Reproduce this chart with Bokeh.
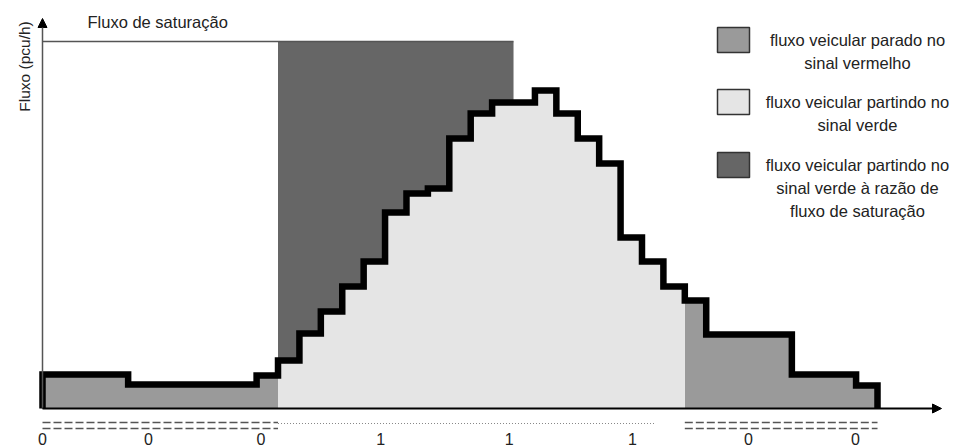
import numpy as np
from bokeh.plotting import figure
from bokeh.models import Range1d, Arrow, NormalHead
from bokeh.embed import file_html
from bokeh.resources import INLINE
from bokeh.core.properties import value

# ---------------- data ----------------
# flow (pcu/h) in each time interval of the cycle
flow = [170, 170, 170, 170,
        120, 120, 120, 120, 120, 120,
        165,
        240, 375, 485, 610, 735, 980, 1075, 1100, 1350, 1475, 1530, 1530, 1590,
        1475, 1350, 1225, 855, 735, 610,
        540, 370, 370, 370, 370,
        170, 170, 170,
        115]
saturation_flow = 1835

queue_intervals = [(0, 11), (30, 39)]      # stopped at red
departing_interval = (11, 30)              # departing at green
saturation_interval = (11, 22)             # departing at saturation flow

red_signal = [(0, 11), (30, 39)]
green_signal = [(11, 28.6)]

tick_pos = [0, 4.95, 10.2, 15.8, 21.8, 27.55, 32.97, 37.97]
tick_labels = ["0", "0", "0", "1", "1", "1", "0", "0"]

legend_labels = [
    ["fluxo veicular parado no", "sinal vermelho"],
    ["fluxo veicular partindo no", "sinal verde"],
    ["fluxo veicular partindo no", "sinal verde à razão de", "fluxo de saturação"],
]
title_text = "Fluxo de saturação"
ylabel_text = "Fluxo (pcu/h)"

# ---------------- styles / layout ----------------
C_QUEUE = "#9a9a9a"
C_GREEN = "#e5e5e5"
C_SAT = "#666666"
TXT = "#222222"
FONT = "Liberation Sans"
TOFF = 6                 # text baseline correction (px)

W, H = 954, 448
UX = 835 / 39.0          # px per time unit
VY = 5.0                 # flow units per px
X0_PX, Y0_PX = 42, 408   # canvas px of origin

def px2u(x):   # canvas x -> data x
    return (x - X0_PX) / UX

def py2v(y):   # canvas y -> data y
    return (Y0_PX - y) * VY

xa = -X0_PX / UX
xb = xa + W / UX
ya = -(H - Y0_PX) * VY
yb = ya + H * VY

p = figure(width=W, height=H, x_range=Range1d(xa, xb), y_range=Range1d(ya, yb),
           x_axis_type=None, y_axis_type=None, toolbar_location=None,
           output_backend="svg", min_border=0, outline_line_color=None,
           background_fill_color="white", border_fill_color="white")

def step_path(a, b):
    xs, ys = [], []
    for i in range(int(a), int(b)):
        xs += [i, i + 1]
        ys += [flow[i], flow[i]]
    return xs, ys

# fills
for a, b in queue_intervals:
    xs, ys = step_path(a, b)
    p.varea(x=xs, y1=[0] * len(xs), y2=ys, fill_color=C_QUEUE)
xs, ys = step_path(*departing_interval)
p.varea(x=xs, y1=[0] * len(xs), y2=ys, fill_color=C_GREEN)
xs, ys = step_path(*saturation_interval)
p.varea(x=xs, y1=ys, y2=[saturation_flow] * len(xs), fill_color=C_SAT)

# saturation line
p.line([0, saturation_interval[1]], [saturation_flow, saturation_flow],
       line_color="#555555", line_width=1.5)

# axes arrows
p.add_layout(Arrow(x_start=0, y_start=0, x_end=0, y_end=py2v(18),
                   line_color="#555555", line_width=1.5,
                   end=NormalHead(size=9, fill_color="black", line_color="black")))
p.add_layout(Arrow(x_start=0, y_start=0, x_end=px2u(941), y_end=0,
                   line_color="black", line_width=1.8,
                   end=NormalHead(size=9, fill_color="black", line_color="black")))

# step line
xs, ys = step_path(0, len(flow))
xs = [0] + xs + [len(flow)]
ys = [0] + ys + [0]
p.line(xs, ys, line_color="black", line_width=6.5, line_join="miter")

# signal indicators under the axis
for a, b in red_signal:
    for yy in (py2v(422), py2v(428)):
        p.line([a, b], [yy, yy], line_color="#555555", line_width=1.6, line_dash="8 3")
for a, b in green_signal:
    p.line([a, b], [py2v(423), py2v(423)], line_color="#888888", line_width=1,
           line_dash="1 2")

# tick labels
p.text(x=tick_pos, y=[py2v(444 - TOFF)] * len(tick_pos), text=tick_labels,
       text_font=value(FONT), text_font_size="16px", text_color=TXT,
       text_align="center", text_baseline="alphabetic")

# title & y label
p.text(x=[px2u(87)], y=[py2v(27.5 - TOFF)], text=[title_text], text_font=value(FONT),
       text_font_size="16.5px", text_color=TXT, text_align="left",
       text_baseline="alphabetic")
p.text(x=[px2u(30 - TOFF)], y=[py2v(66)], text=[ylabel_text], text_font=value(FONT),
       text_font_size="15.5px", text_color=TXT, text_align="center",
       text_baseline="alphabetic", angle=np.pi / 2)

# legend
leg_colors = [C_QUEUE, C_GREEN, C_SAT]
leg_tops = [27, 89, 152]
for lab, col, top in zip(legend_labels, leg_colors, leg_tops):
    p.quad(left=[px2u(717)], right=[px2u(749)], top=[py2v(top)], bottom=[py2v(top + 25)],
           fill_color=col, line_color="#333333", line_width=1.5)
    ys_t = [py2v(top + 18 - TOFF + 23 * k) for k in range(len(lab))]
    p.text(x=[px2u(857)] * len(lab), y=ys_t, text=lab, text_font=value(FONT),
           text_font_size="16.5px", text_color=TXT, text_align="center",
           text_baseline="alphabetic")

open("out.html", "w").write(file_html(p, INLINE))
